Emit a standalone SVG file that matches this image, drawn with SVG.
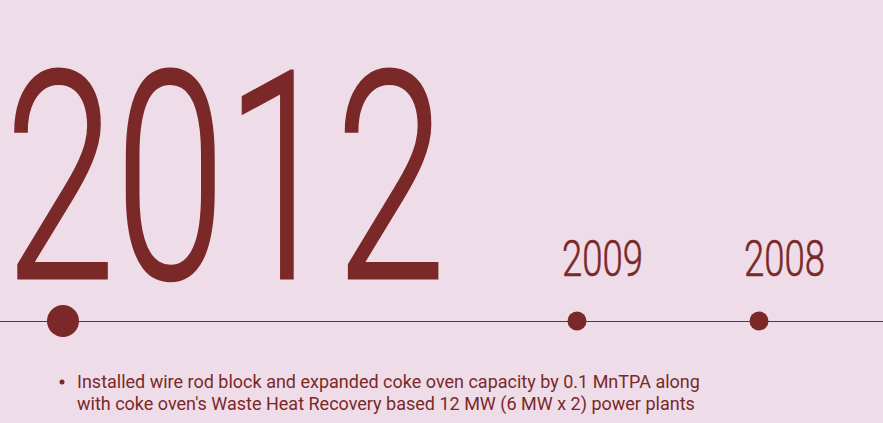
<svg xmlns="http://www.w3.org/2000/svg" width="883" height="423" viewBox="0 0 883 423">
<style>
.yr{font-family:Roboto,"DejaVu Sans",sans-serif;font-weight:300;fill:#7B2828;stroke:#7B2828}
.body{font-family:Roboto,"Liberation Sans",sans-serif;font-size:18px;fill:#7B2828}
.dot{fill:#7B2828}
</style>
<rect width="883" height="423" fill="#EEDDE8"/>
<g id="year-2012"><text class="yr" transform="translate(5,278) scale(0.685,1)" font-size="290" stroke-width="3">2012</text></g>
<g id="year-2009"><text class="yr" transform="translate(562,276) scale(0.73,1)" font-size="50" stroke-width="0.6">2009</text></g>
<g id="year-2008"><text class="yr" transform="translate(744,276) scale(0.73,1)" font-size="50" stroke-width="0.6">2008</text></g>
<g id="connectors"><line x1="0" y1="321.5" x2="883" y2="321.5" stroke="#7B2828" stroke-width="1"/></g>
<g id="node-2012"><circle class="dot" cx="63" cy="321" r="16"/></g>
<g id="node-2009"><circle class="dot" cx="577" cy="321" r="9.5"/></g>
<g id="node-2008"><circle class="dot" cx="759" cy="321" r="9.5"/></g>
<g id="description">
<circle class="dot" cx="62" cy="382" r="2.5"/>
<text class="body" x="77" y="388">Installed wire rod block and expanded coke oven capacity by 0.1 MnTPA along</text>
<text class="body" x="77" y="410">with coke oven's Waste Heat Recovery based 12 MW (6 MW x 2) power plants</text>
</g>
</svg>
